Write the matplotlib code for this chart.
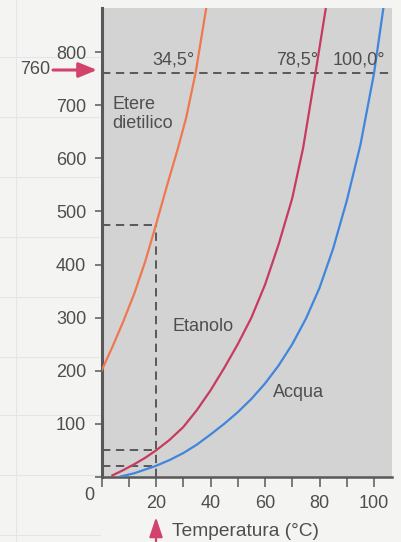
import matplotlib
matplotlib.use("Agg")
import matplotlib.pyplot as plt
from matplotlib.lines import Line2D

# Vapour pressure (mmHg) against temperature (°C)
ether_t = [0, 4, 8, 12, 16, 20, 24, 28, 31, 34.5, 38.5]
ether_p = [200, 245, 293, 345, 405, 475, 548, 618, 675, 760, 885]

ethanol_t = [4, 8, 12, 16, 20, 25, 30, 35, 40, 45, 50, 55, 60, 65, 70, 74, 78.5, 83]
ethanol_p = [3, 13, 24, 36, 50, 70, 94, 126, 163, 205, 250, 300, 362, 438, 525, 620, 760, 905]

water_t = [7, 12, 16, 20, 25, 30, 35, 40, 45, 50, 55, 60, 65, 70, 75, 80, 85, 90, 95, 100, 103.5]
water_p = [1, 7, 14, 21, 32, 45, 61, 80, 100, 122, 147, 176, 210, 250, 298, 356, 430, 520, 625, 760, 885]

boiling_labels = ["34,5°", "78,5°", "100,0°"]
curve_labels = ["Etere\ndietilico", "Etanolo", "Acqua"]
x_ticks = [0, 10, 20, 30, 40, 50, 60, 70, 80, 90, 100]
x_ticklabels = ["", "", "20", "", "40", "", "60", "", "80", "", "100"]
y_ticks = [0, 100, 200, 300, 400, 500, 600, 700, 800]
y_ticklabels = ["", "100", "200", "300", "400", "500", "600", "700", "800"]
p_atm = 760
t_ref = 20

W, H = 401, 542
plt.rcParams["font.family"] = ["Liberation Sans", "DejaVu Sans"]
plt.rcParams["lines.scale_dashes"] = False

TEXT = "#4e4e4e"
AXIS = "#585858"
C_ETHER = "#ef7850"
C_ETHANOL = "#c83a60"
C_WATER = "#3f86dc"
ARROW = "#d2436c"
FS = 13


def fp(x, y):
    """Pixel position (from top-left) to figure fraction."""
    return x / W, 1 - y / H


fig = plt.figure(figsize=(W / 100, H / 100), dpi=100, facecolor="#f4f4f2")

# faint graph-paper lines of the page
for yy in [57, 117, 177, 237, 297, 357, 415, 475, 535]:
    fig.add_artist(Line2D([0, 0.25], [1 - yy / H] * 2, transform=fig.transFigure,
                          color="#e3e5eb", lw=0.8, zorder=0))
for xx in [16]:
    fig.add_artist(Line2D([xx / W] * 2, [0, 1], transform=fig.transFigure,
                          color="#e3e5eb", lw=0.8, zorder=0))

left, right, top, bottom = 101.5, 392, 8, 477
ax = fig.add_axes([left / W, 1 - bottom / H, (right - left) / W, (bottom - top) / H])
ax.set_facecolor("#d3d3d3")
ax.set_xlim(0, 106.6)
ax.set_ylim(0, 883)

for s in ["top", "right"]:
    ax.spines[s].set_visible(False)
ax.spines["left"].set_linewidth(2.2)
ax.spines["left"].set_color(AXIS)
ax.spines["bottom"].set_linewidth(1.8)
ax.spines["bottom"].set_color(AXIS)

ax.set_xticks(x_ticks)
ax.set_xticklabels(x_ticklabels)
ax.set_yticks(y_ticks)
ax.set_yticklabels(y_ticklabels)
ax.tick_params(axis="x", direction="out", length=7, width=1.1, color=AXIS,
               labelsize=FS, labelcolor=TEXT, pad=6)
ax.tick_params(axis="y", direction="out", length=5, width=1.1, color=AXIS,
               labelsize=FS, labelcolor=TEXT, pad=6)

# reference dashed lines
dash = (0, (6, 4))
e20 = ether_p[ether_t.index(t_ref)]
a20 = ethanol_p[ethanol_t.index(t_ref)]
w20 = water_p[water_t.index(t_ref)]
ax.plot([0, 106.6], [p_atm, p_atm], ls=dash, color=AXIS, lw=1.4, zorder=2)
for p in [e20, a20, w20]:
    ax.plot([0, t_ref], [p, p], ls=dash, color=AXIS, lw=1.4, zorder=2)
ax.plot([t_ref, t_ref], [0, e20], ls=dash, color=AXIS, lw=1.4, zorder=2)

# vapour pressure curves
ax.plot(ether_t, ether_p, color=C_ETHER, lw=1.6, zorder=3)
ax.plot(ethanol_t, ethanol_p, color=C_ETHANOL, lw=1.6, zorder=3)
ax.plot(water_t, water_p, color=C_WATER, lw=1.6, zorder=3)

# boiling point labels
ax.text(34.3, 785, boiling_labels[0], ha="right", va="center", fontsize=FS, color=TEXT, zorder=4)
ax.text(79.4, 785, boiling_labels[1], ha="right", va="center", fontsize=FS, color=TEXT, zorder=4)
ax.text(104.0, 785, boiling_labels[2], ha="right", va="center", fontsize=FS, color=TEXT, zorder=4)

# curve names
ax.text(3.9, 717, curve_labels[0], ha="left", va="top", fontsize=FS, color=TEXT,
        linespacing=1.15, zorder=4)
ax.text(26.2, 284, curve_labels[1], ha="left", va="center", fontsize=FS, color=TEXT, zorder=4)
ax.text(62.9, 160, curve_labels[2], ha="left", va="center", fontsize=FS, color=TEXT, zorder=4)

# origin label and axis title
fig.text(*fp(89, 495), "0", ha="center", va="center", fontsize=FS, color=TEXT)
fig.text(*fp(172, 532), "Temperatura (°C)", ha="left", va="center", fontsize=13.8, color=TEXT)

# 760 marker and temperature arrow
fig.text(*fp(50, 70), str(p_atm), ha="right", va="center", fontsize=FS, color=TEXT)
ax.annotate("", xy=fp(97, 70), xycoords="figure fraction",
            xytext=fp(53, 70), textcoords="figure fraction",
            arrowprops=dict(arrowstyle="-|>,head_length=1.1,head_width=0.45",
                            lw=2.2, color=ARROW, shrinkA=0, shrinkB=0),
            annotation_clip=False)
ax.annotate("", xy=fp(156, 517), xycoords="figure fraction",
            xytext=fp(156, 545), textcoords="figure fraction",
            arrowprops=dict(arrowstyle="-|>,head_length=1.2,head_width=0.4",
                            lw=1.6, color=ARROW, shrinkA=0, shrinkB=0),
            annotation_clip=False)

fig.savefig("out.png", dpi=100, facecolor=fig.get_facecolor())
